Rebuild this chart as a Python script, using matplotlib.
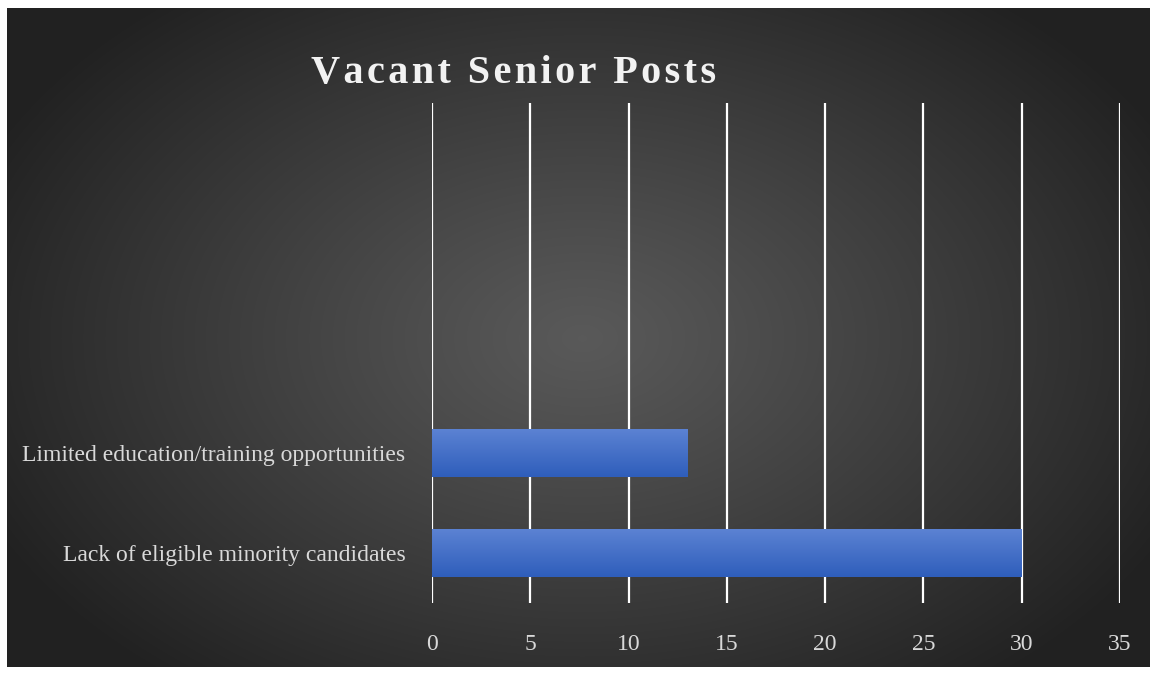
import numpy as np
import matplotlib.pyplot as plt

# data
categories = ["Lack of eligible minority candidates",
              "Limited education/training opportunities", "", "", ""]
values = [30, 13, 0, 0, 0]
xticks = [0, 5, 10, 15, 20, 25, 30, 35]
title = "Vacant Senior Posts"

W, H = 1157, 674
fig = plt.figure(figsize=(W / 100, H / 100), dpi=100)
fig.patch.set_facecolor("white")

# dark radial background
bg = fig.add_axes([7 / W, 7 / H, 1143 / W, 659 / H])
yy, xx = np.mgrid[0:659, 0:1143]
r = np.sqrt(((xx - 575) / 660.0) ** 2 + ((yy - 330) / 440.0) ** 2)
g = 0.35 - (0.35 - 0.13) * np.clip(r, 0, 1) ** 1.1
bg.imshow(np.dstack([g, g, g]), aspect="auto", extent=(0, 1, 0, 1))
bg.set_axis_off()

ax = fig.add_axes([432 / W, 71 / H, 688 / W, 500 / H], zorder=1)
ax.patch.set_alpha(0)

bars = ax.barh(range(len(values)), values, height=0.48, color="#4472c4", zorder=2)
# vertical gradient on the bars, light at top
grad = np.linspace(0, 1, 50).reshape(-1, 1)
top = np.array([0x5b, 0x82, 0xd3]) / 255
bot = np.array([0x2f, 0x5e, 0xbb]) / 255
img = top + (bot - top) * grad[..., None]
for b in bars:
    if b.get_width() > 0:
        x0, y0 = b.get_x(), b.get_y()
        ax.imshow(img, aspect="auto", zorder=3,
                  extent=(x0, x0 + b.get_width(), y0, y0 + b.get_height()))

ax.set_xlim(0, 35)
ax.set_ylim(-0.5, len(values) - 0.5)
ax.set_xticks(xticks)
ax.set_yticks(range(len(categories)))
ax.set_yticklabels(categories)
ax.grid(axis="x", color="white", lw=1.6, zorder=1)
ax.set_axisbelow(True)
for s in ax.spines.values():
    s.set_visible(False)
ax.tick_params(axis="x", length=0, pad=22, labelsize=17, labelcolor="#d9d9d9")
ax.tick_params(axis="y", length=0, pad=19, labelsize=17, labelcolor="#d9d9d9")
for lab in ax.get_xticklabels() + ax.get_yticklabels():
    lab.set_family(["Liberation Serif", "DejaVu Serif"])

fig.text(514 / W, 1 - 83 / H, "\u200a".join(title), ha="center", va="baseline",
         fontsize=29, fontweight="bold", color="#f2f2f2",
         family=["Liberation Serif", "DejaVu Serif"])

fig.savefig("out.png", dpi=100)
